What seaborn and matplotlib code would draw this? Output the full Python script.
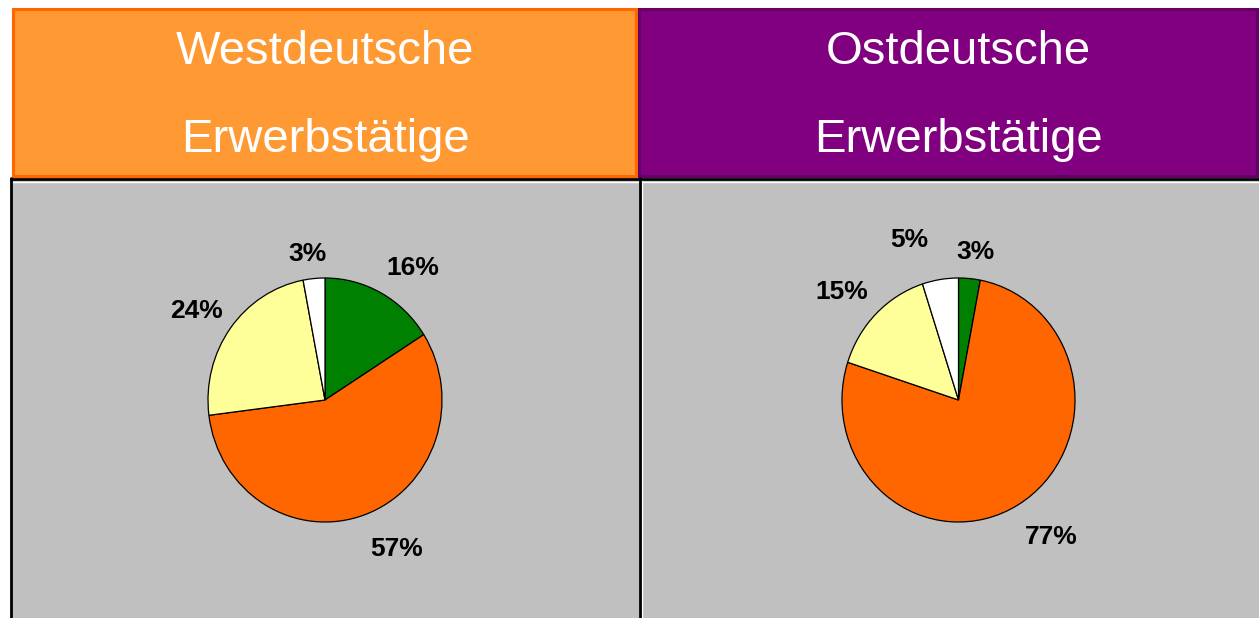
"""
Erwerbstätige West/Ost – zwei Kreisdiagramme nebeneinander.
"""

import matplotlib
matplotlib.use("Agg")
import matplotlib.pyplot as plt
from matplotlib.patches import Rectangle
import numpy as np
import seaborn as sns

# ─── DATEN ────────────────────────────────────────────────────────────────────
titles = [["Westdeutsche", "Erwerbstätige"], ["Ostdeutsche", "Erwerbstätige"]]
west_values = [16, 57, 24, 3]
ost_values = [3, 77, 15, 5]
slice_colors = ["#008000", "#FF6600", "#FFFF99", "#FFFFFF"]
header_fill = ["#FF9933", "#800080"]
header_edge = ["#FF6600", "#660066"]

# Beschriftungs-Layout (Winkel in Grad, Abstand in Radien) wie im Original
west_label_pos = [(55.2, 1.32), (-63.3, 1.37), (146.3, 1.32), (97.3, 1.21)]
ost_label_pos = [(83.3, 1.22), (-54.7, 1.375), (138.5, 1.335), (108.0, 1.38)]

W, H = 1259, 618

sns.set_style("white")
plt.rcParams["font.family"] = ["Liberation Sans", "DejaVu Sans"]

fig = plt.figure(figsize=(W / 100, H / 100), dpi=100)

# Hintergrund-Achse in Pixelkoordinaten (y nach unten)
bg = fig.add_axes([0, 0, 1, 1])
bg.set_xlim(0, W)
bg.set_ylim(H, 0)
bg.axis("off")

# Kopfzeilen
headers = [(12, 7, 626, 170), (638, 7, 621, 170)]
for i, (x, y, w, h) in enumerate(headers):
    bg.add_patch(Rectangle((x + 1.5, y + 1.5), w - 3, h - 3, facecolor=header_fill[i],
                           edgecolor=header_edge[i], linewidth=2.2))
    cx = x + w / 2 if i == 0 else 958
    bg.text(cx, 52, titles[i][0], color="white", fontsize=34, ha="center", va="center")
    bg.text(cx, 140, titles[i][1], color="white", fontsize=34, ha="center", va="center")

# graue Felder + Rahmenlinien
bg.add_patch(Rectangle((12, 179), 628, H - 179, facecolor="#C0C0C0", edgecolor="none"))
bg.add_patch(Rectangle((642, 179), W - 642, H - 179, facecolor="#C0C0C0", edgecolor="none"))
bg.plot([11, W], [181.5, 181.5], color="white", lw=1.0)
bg.plot([642.5, 642.5], [181, H], color="white", lw=1.0)
bg.plot([11, W], [178.5, 178.5], color="black", lw=2.0)
bg.plot([11.5, 11.5], [177.5, H], color="black", lw=2.0)
bg.plot([640.5, 640.5], [177.5, H], color="black", lw=2.0)


# ─── KREISDIAGRAMME ───────────────────────────────────────────────────────────
def draw_pie(values, label_pos, cx, cy, rx=117, ry=122):
    lim = 1.6
    wpx, hpx = 2 * rx * lim, 2 * ry * lim
    ax = fig.add_axes([(cx - wpx / 2) / W, 1 - (cy + hpx / 2) / H, wpx / W, hpx / H])
    _, _, autotexts = ax.pie(values, colors=slice_colors, startangle=90, counterclock=False,
                             wedgeprops=dict(edgecolor="black", linewidth=0.9),
                             autopct="%.0f%%", pctdistance=1.3,
                             textprops=dict(fontsize=19, fontweight="bold", color="black"))
    for t, (ang, r) in zip(autotexts, label_pos):
        a = np.deg2rad(ang)
        t.set_position((r * np.cos(a), r * np.sin(a)))
    ax.set_aspect("auto")
    ax.set_xlim(-lim, lim)
    ax.set_ylim(-lim, lim)
    ax.axis("off")
    return ax


draw_pie(west_values, west_label_pos, 325, 400)
draw_pie(ost_values, ost_label_pos, 958.5, 400, rx=116.5)

fig.savefig("out.png", dpi=100)
